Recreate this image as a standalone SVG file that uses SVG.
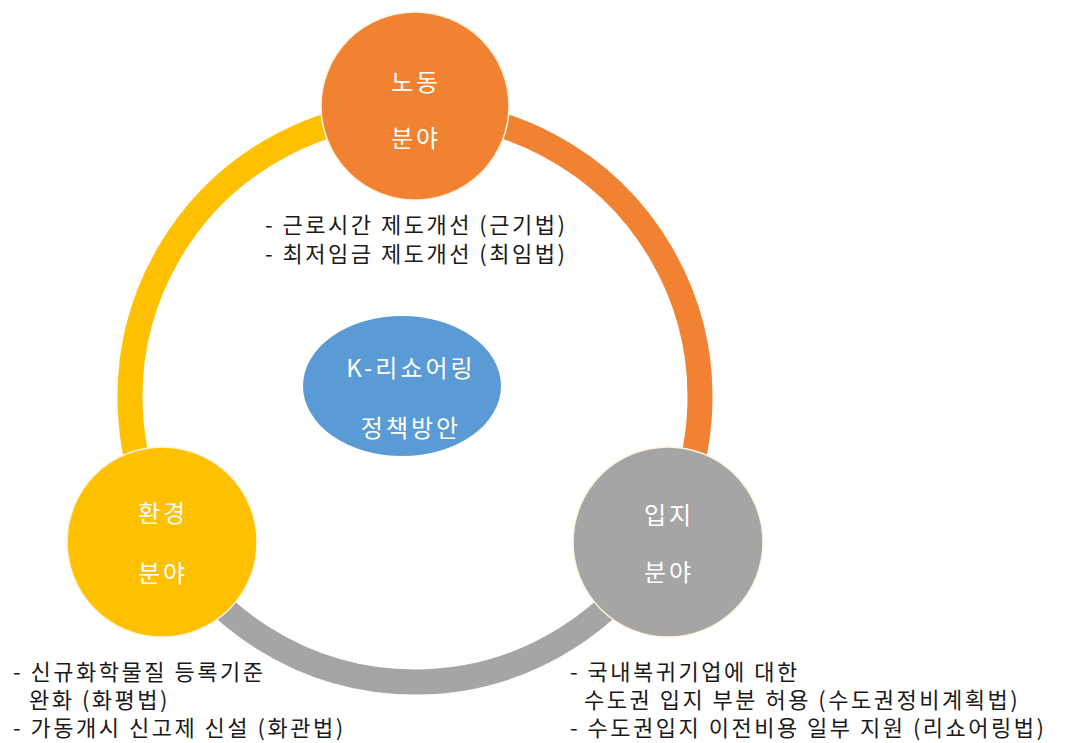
<svg xmlns="http://www.w3.org/2000/svg" width="1079" height="743" viewBox="0 0 1079 743">
<style>
.ring{fill:none;stroke-width:25;stroke-linecap:butt}
.node{stroke:#FFF3E0;stroke-width:1.5}
.nt{font-family:"Malgun Gothic","Noto Sans CJK KR",sans-serif;font-size:24px;letter-spacing:3px;fill:#FFFFFF;text-anchor:middle}
.lb{font-family:"Malgun Gothic","Noto Sans CJK KR",sans-serif;font-size:22px;letter-spacing:2.5px;fill:#1a1a1a}
</style>
<rect width="1079" height="743" fill="#FFFFFF"/>
<g id="connectors">
<path class="ring" stroke="#F08232" d="M 415 112 A 285 285 0 0 1 661.8 539.5"/>
<path class="ring" stroke="#A5A5A5" d="M 661.8 539.5 A 285 285 0 0 1 168.2 539.5"/>
<path class="ring" stroke="#FFC000" d="M 168.2 539.5 A 285 285 0 0 1 415 112"/>
</g>
<g id="center">
<ellipse cx="402" cy="386" rx="99" ry="70" fill="#5B9BD5"/>
<text class="nt" x="411" y="377">K-리쇼어링</text>
<text class="nt" x="411" y="437">정책방안</text>
</g>
<g id="node-labor">
<circle class="node" cx="415" cy="106" r="94" fill="#F08232"/>
<text class="nt" x="416" y="91">노동</text>
<text class="nt" x="416" y="147">분야</text>
</g>
<g id="node-location">
<circle class="node" cx="668" cy="542" r="95" fill="#A5A5A5"/>
<text class="nt" x="669" y="524">입지</text>
<text class="nt" x="669" y="581">분야</text>
</g>
<g id="node-env">
<circle class="node" cx="162" cy="542" r="95" fill="#FFC000"/>
<text class="nt" x="163" y="522">환경</text>
<text class="nt" x="163" y="582">분야</text>
</g>
<g id="label-labor">
<text class="lb" x="265" y="233">- 근로시간 제도개선 (근기법)</text>
<text class="lb" x="265" y="262">- 최저임금 제도개선 (최임법)</text>
</g>
<g id="label-env">
<text class="lb" x="13" y="680">- 신규화학물질 등록기준</text>
<text class="lb" x="29" y="708">완화 (화평법)</text>
<text class="lb" x="13" y="736">- 가동개시 신고제 신설 (화관법)</text>
</g>
<g id="label-location">
<text class="lb" x="570" y="680">- 국내복귀기업에 대한</text>
<text class="lb" x="584" y="708">수도권 입지 부분 허용 (수도권정비계획법)</text>
<text class="lb" x="570" y="736">- 수도권입지 이전비용 일부 지원 (리쇼어링법)</text>
</g>
</svg>
